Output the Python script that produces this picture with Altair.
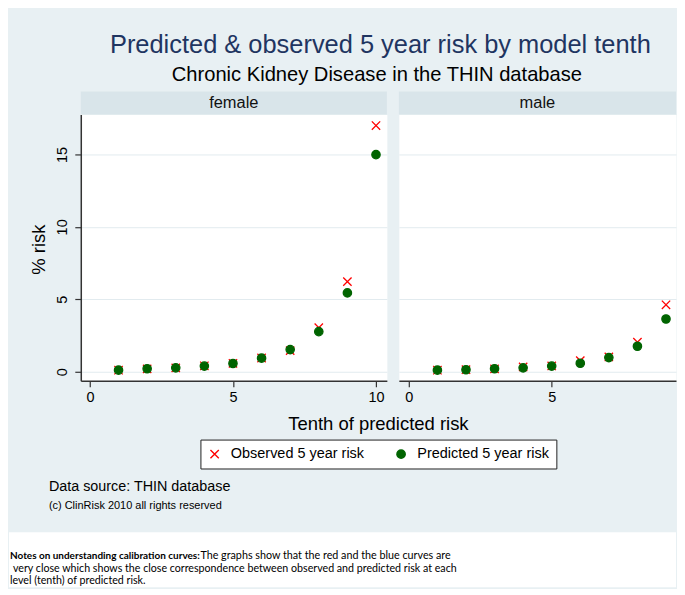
import altair as alt
import pandas as pd

FONT = "Liberation Sans"
NOTE_FONT = "Lato"
BG = "#E8F0F3"
STRIP = "#D9E5EA"
GRID = "#E2EBEF"
AXIS = "#333333"
TITLE_COLOR = "#1F3561"

# ---- data -------------------------------------------------------------
series_names = ["Observed 5 year risk", "Predicted 5 year risk"]
series_colors = ["#FF0000", "#006400"]
X_PATH = "M-1,-1L1,1M1,-1L-1,1"
series_shapes = [X_PATH, "circle"]

female_tenth = [1, 2, 3, 4, 5, 6, 7, 8, 9, 10]
female_observed = [0.11, 0.20, 0.27, 0.41, 0.58, 0.95, 1.46, 3.04, 6.22, 16.99]
female_predicted = [0.11, 0.21, 0.27, 0.39, 0.57, 0.94, 1.53, 2.77, 5.44, 14.98]

male_tenth = [1, 2, 3, 4, 5, 6, 7, 8, 9]
male_observed = [0.11, 0.14, 0.20, 0.33, 0.40, 0.77, 1.02, 2.04, 4.62]
male_predicted = [0.11, 0.14, 0.21, 0.27, 0.39, 0.59, 0.98, 1.76, 3.64]

panel_names = ["female", "male"]
x_ticks_female = [0, 5, 10]
x_ticks_male = [0, 5]
y_ticks = [0, 5, 10, 15]

title_text = "Predicted & observed 5 year risk by model tenth"
subtitle_text = "Chronic Kidney Disease in the THIN database"
x_title = "Tenth of predicted risk"
y_title = "% risk"
source_text = "Data source: THIN database"
copyright_text = "(c) ClinRisk 2010 all rights reserved"
notes_bold = "Notes on understanding calibration curves:"
notes_lines = [
    "The graphs show that the red and the blue curves are",
    "very close which shows the close correspondence between observed and predicted risk at each",
    "level (tenth) of predicted risk.",
]

# ---- layout -----------------------------------------------------------
W_F, W_M, H, SP = 307, 278, 267, 12
X_DOM_F = [-0.32, 10.38]
X_DOM_M = [-0.35, 9.35]
Y_DOM = [-0.62, 17.75]
RIGHT = 597   # right edge of the figure, relative to the female plot origin
BOTTOM = 474  # bottom edge of the figure, relative to the female plot origin


def long_df(tenths, obs, pred):
    rows = [{"tenth": t, "risk": v, "series": series_names[0]} for t, v in zip(tenths, obs)]
    rows += [{"tenth": t, "risk": v, "series": series_names[1]} for t, v in zip(tenths, pred)]
    return pd.DataFrame(rows)


def text_layer(txt, x, y, size, color="#000000", align="center", weight="normal",
               font=FONT, angle=0):
    kw = dict(fontSize=size, color=color, align=align, baseline="middle",
              font=font, fontWeight=weight)
    if angle:
        kw["angle"] = angle
    return alt.Chart(pd.DataFrame({"label": [txt]})).mark_text(**kw).encode(
        x=alt.value(x), y=alt.value(y), text="label:N"
    )


def rect_layer(x, x2, y, y2, fill, opacity=1.0):
    return alt.Chart(pd.DataFrame({"k": [0]})).mark_rect(fill=fill, opacity=opacity).encode(
        x=alt.value(x), x2=alt.value(x2), y=alt.value(y), y2=alt.value(y2)
    )


legend = alt.Legend(
    title=None, orient="none", legendX=120, legendY=326, direction="horizontal",
    fillColor="white", strokeColor="#222222", padding=7,
    labelFont=FONT, labelFontSize=14.5, labelColor="#000000",
    symbolSize=70, symbolStrokeWidth=1.4, columnPadding=29, labelOffset=9,
)
fill_enc = alt.Fill("series:N", scale=alt.Scale(domain=series_names, range=series_colors), legend=legend)
stroke_enc = alt.Stroke("series:N", scale=alt.Scale(domain=series_names, range=series_colors), legend=legend)
shape_enc = alt.Shape("series:N", scale=alt.Scale(domain=series_names, range=series_shapes), legend=legend)

axis_common = dict(
    domainColor=AXIS, domainWidth=1.5, tickColor=AXIS, tickWidth=1.2, tickSize=6,
    labelFont=FONT, labelFontSize=14.5, labelColor="#000000",
)


def panel(name, tenths, obs, pred, xdom, width, xticks, first):
    df = long_df(tenths, obs, pred)
    if first:
        x_axis = alt.Axis(values=xticks, grid=False, labelPadding=4, labelFlush=False,
                          title=x_title, titleX=298, titleY=43, titleFont=FONT,
                          titleFontSize=18.5, titleFontWeight="normal", titleColor="#000000",
                          titleAlign="center", titleBaseline="middle", **axis_common)
        y_axis = alt.Axis(values=y_ticks, grid=True, gridColor=GRID, gridWidth=1,
                          labelAngle=270, labelAlign="center", labelBaseline="middle",
                          labelPadding=12, labelFlush=False,
                          title=y_title, titleX=-42, titleY=135, titleAngle=270,
                          titleFont=FONT, titleFontSize=18.5, titleFontWeight="normal",
                          titleColor="#000000", titleAlign="center", titleBaseline="middle",
                          **axis_common)
    else:
        x_axis = alt.Axis(values=xticks, grid=False, labelPadding=4, labelFlush=False,
                          title=None, **axis_common)
        y_axis = alt.Axis(values=y_ticks, grid=True, gridColor=GRID, gridWidth=1,
                          labels=False, ticks=False, domain=False, title=None)

    points = alt.Chart(df).mark_point(filled=True, size=70, strokeWidth=1.3, opacity=1).encode(
        x=alt.X("tenth:Q", scale=alt.Scale(domain=xdom, nice=False, zero=False), axis=x_axis),
        y=alt.Y("risk:Q", scale=alt.Scale(domain=Y_DOM, nice=False, zero=False), axis=y_axis),
        fill=fill_enc, stroke=stroke_enc, shape=shape_enc,
    )
    strip = rect_layer(0, width, -23, 0, STRIP)
    strip_label = text_layer(name, width / 2, -11.5, 16.5, color="#111111")

    layers = []
    if first:
        layers += [
            rect_layer(-72, RIGHT, -105, BOTTOM, BG, opacity=0),
            rect_layer(-72, RIGHT, 419, BOTTOM, "white"),
            text_layer(title_text, 300.5, -70, 25.5, color=TITLE_COLOR),
            text_layer(subtitle_text, 297, -40, 20.2),
            text_layer(source_text, -32, 374, 14.4, align="left"),
            text_layer(copyright_text, -32, 393, 11, align="left"),
            text_layer(notes_bold, -71, 443, 10, align="left", weight="bold", font=NOTE_FONT),
            text_layer(notes_lines[0], 120, 443, 10.8, align="left", font=NOTE_FONT),
            text_layer(notes_lines[1], -68, 455.5, 10.7, align="left", font=NOTE_FONT),
            text_layer(notes_lines[2], -71, 468, 10.7, align="left", font=NOTE_FONT),
        ]
    layers += [strip, strip_label, points]
    return alt.layer(*layers).properties(width=width, height=H)


female = panel(panel_names[0], female_tenth, female_observed, female_predicted,
               X_DOM_F, W_F, x_ticks_female, True)
male = panel(panel_names[1], male_tenth, male_observed, male_predicted,
             X_DOM_M, W_M, x_ticks_male, False)

chart = (
    alt.hconcat(female, male, spacing=SP, bounds="flush")
    .resolve_scale(x="independent")
    .resolve_axis(x="independent", y="independent")
    .properties(padding=0, background=BG)
    .configure_view(fill="white", stroke="transparent")
)

chart.save("out.html", embed_options={"renderer": "svg", "actions": False})
